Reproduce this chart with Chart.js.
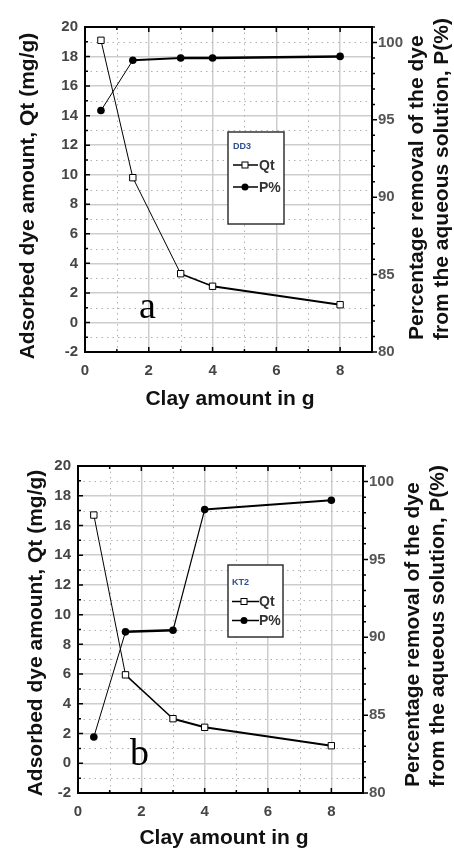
<!DOCTYPE html>
<html>
<head>
<meta charset="utf-8">
<script src="https://cdn.jsdelivr.net/npm/chart.js@4"></script>
<style>
	body { margin: 0; background: #fff; }
	canvas { display: block; }
</style>
</head>
<body>
<canvas id="chartA" width="454" height="420"></canvas>
<canvas id="chartB" width="454" height="429"></canvas>
<script>
// values
const clayAmount = [0.5, 1.5, 3, 4, 8];
const qtDD3 = [19.1, 9.8, 3.3, 2.45, 1.2];
const pDD3 = [95.6, 98.85, 99.0, 99.0, 99.1];
const qtKT2 = [16.7, 5.95, 3.0, 2.42, 1.18];
const pKT2 = [83.6, 90.35, 90.45, 98.2, 98.8];

const xTicks = [0, 2, 4, 6, 8];
const qtTicks = [-2, 0, 2, 4, 6, 8, 10, 12, 14, 16, 18, 20];
const pTicks = [80, 85, 90, 95, 100];

const seriesNames = ['Qt', 'P%'];
const sampleNames = ['DD3', 'KT2'];
const panelLetters = ['a', 'b'];

const xTitle = 'Clay amount in g';
const qtTitle = 'Adsorbed dye amount, Qt (mg/g)';
const pTitle = ['Percentage removal of the dye', 'from the aqueous solution, P(%)'];

const tickFont = { family: '"Liberation Sans Narrow", "Arial Narrow", sans-serif', size: 15, weight: 'bold' };
const titleFont = 'bold 21px "Liberation Sans", Arial, sans-serif';

const panelDecor = {
	id: 'panelDecor',
	beforeDraw(chart) {
		const ctx = chart.ctx;
		ctx.save();
		ctx.fillStyle = '#fff';
		ctx.fillRect(0, 0, chart.width, chart.height);
		ctx.restore();
	},
	beforeDatasetsDraw(chart) {
		const { ctx, chartArea: { left, right, top, bottom }, scales: { x, y } } = chart;
		ctx.save();
		ctx.strokeStyle = '#b0b0b0';
		ctx.lineWidth = 1;
		ctx.setLineDash([1.5, 4]);
		for (let v = 1; v < 9; v += 2) {
			const px = Math.round(x.getPixelForValue(v)) + 0.5;
			ctx.beginPath(); ctx.moveTo(px, top); ctx.lineTo(px, bottom); ctx.stroke();
		}
		for (let v = -1; v < 20; v += 2) {
			const py = Math.round(y.getPixelForValue(v)) + 0.5;
			ctx.beginPath(); ctx.moveTo(left, py); ctx.lineTo(right, py); ctx.stroke();
		}
		ctx.restore();
	},
	afterDatasetsDraw(chart, args, o) {
		const { ctx, chartArea: { left, right, top, bottom }, scales: { x, y, y1 } } = chart;
		ctx.save();

		// frame and tick marks
		ctx.strokeStyle = '#000';
		ctx.lineWidth = 2;
		ctx.strokeRect(left, top, right - left, bottom - top);
		ctx.lineWidth = 1.5;
		ctx.beginPath();
		for (let v = 0; v <= 9; v++) {
			const px = x.getPixelForValue(v), len = v % 2 === 0 ? 5 : 3;
			ctx.moveTo(px, bottom); ctx.lineTo(px, bottom - len);
			ctx.moveTo(px, top); ctx.lineTo(px, top + len);
		}
		for (let v = -2; v <= 20; v++) {
			const py = y.getPixelForValue(v), len = v % 2 === 0 ? 5 : 3;
			ctx.moveTo(left, py); ctx.lineTo(left + len, py);
		}
		for (let v = 80; v <= 101; v++) {
			const py = y1.getPixelForValue(v), len = v % 5 === 0 ? 5 : 3;
			ctx.moveTo(right, py); ctx.lineTo(right + len, py);
		}
		ctx.stroke();

		// legend box
		const L = o.legend;
		ctx.fillStyle = '#fff';
		ctx.fillRect(L.x, L.y, L.w, L.h);
		ctx.strokeStyle = '#333';
		ctx.lineWidth = 1.5;
		ctx.strokeRect(L.x, L.y, L.w, L.h);
		ctx.textBaseline = 'middle';
		ctx.textAlign = 'left';
		ctx.font = 'bold 9px "Liberation Sans Narrow", sans-serif';
		ctx.fillStyle = '#2f4f8f';
		ctx.fillText(o.sample, L.lineX[0], L.titleY);
		ctx.font = 'bold 14px "Liberation Sans Narrow", sans-serif';
		seriesNames.forEach((name, i) => {
			const ry = L.rows[i];
			ctx.strokeStyle = '#000';
			ctx.lineWidth = 1.5;
			ctx.beginPath(); ctx.moveTo(L.lineX[0], ry); ctx.lineTo(L.lineX[1], ry); ctx.stroke();
			if (i === 0) {
				ctx.fillStyle = '#fff';
				ctx.fillRect(L.markX - 3, ry - 3, 6, 6);
				ctx.lineWidth = 1;
				ctx.strokeRect(L.markX - 3, ry - 3, 6, 6);
			} else {
				ctx.fillStyle = '#000';
				ctx.beginPath(); ctx.arc(L.markX, ry, 3.5, 0, Math.PI * 2); ctx.fill();
			}
			ctx.fillStyle = '#333';
			ctx.fillText(name, L.textX, ry + 1);
		});

		// panel letter
		ctx.font = '38px "Liberation Serif", "Times New Roman", serif';
		ctx.fillStyle = '#000';
		ctx.textBaseline = 'alphabetic';
		ctx.fillText(o.letter, o.letterPos.x, o.letterPos.y);

		// axis titles
		ctx.font = titleFont;
		ctx.fillStyle = '#111';
		ctx.textBaseline = 'middle';
		ctx.textAlign = 'center';
		ctx.fillText(xTitle, o.xTitle.x, o.xTitle.y);

		ctx.save();
		ctx.translate(o.qtTitle.x, o.qtTitle.y);
		ctx.rotate(-Math.PI / 2);
		ctx.fillText(qtTitle, 0, 0);
		ctx.restore();

		ctx.save();
		ctx.translate(o.pTitle.x, o.pTitle.y);
		ctx.rotate(-Math.PI / 2);
		ctx.textAlign = 'left';
		pTitle.forEach((line, i) => ctx.fillText(line, 0, i * o.pTitle.gap));
		ctx.restore();

		ctx.restore();
	}
};

function toPoints(values) {
	return clayAmount.map((c, i) => ({ x: c, y: values[i] }));
}

function setTicks(list) {
	return scale => { scale.ticks = list.map(v => ({ value: v })); };
}

function drawPanel(canvasId, qt, p, panel) {
	const widthOf = list => c => list[c.p0DataIndex];
	return new Chart(document.getElementById(canvasId), {
		type: 'scatter',
		data: {
			datasets: [
				{
					label: seriesNames[0],
					data: toPoints(qt),
					yAxisID: 'y',
					showLine: true,
					borderColor: '#000',
					borderWidth: 1,
					segment: { borderWidth: widthOf(panel.qtWidths) },
					pointStyle: 'rect',
					pointRadius: 4.5,
					pointBackgroundColor: '#fff',
					pointBorderColor: '#000',
					pointBorderWidth: 1
				},
				{
					label: seriesNames[1],
					data: toPoints(p),
					yAxisID: 'y1',
					showLine: true,
					borderColor: '#000',
					borderWidth: 1,
					segment: { borderWidth: widthOf(panel.pWidths) },
					pointStyle: 'circle',
					pointRadius: 3.8,
					pointBackgroundColor: '#000',
					pointBorderColor: '#000',
					pointBorderWidth: 0
				}
			]
		},
		options: {
			responsive: false,
			animation: false,
			layout: { padding: { top: panel.padTop, left: 0, right: 0, bottom: 0 }, autoPadding: false },
			plugins: {
				legend: { display: false },
				tooltip: { enabled: false },
				panelDecor: panel
			},
			scales: {
				x: {
					type: 'linear', min: 0, max: 9,
					afterFit: s => { s.height = panel.xH; },
					afterBuildTicks: setTicks(xTicks),
					grid: { color: '#cdcdcd', lineWidth: 1.5, drawTicks: false },
					border: { display: false },
					ticks: { font: tickFont, color: '#454545', padding: panel.xPad, maxRotation: 0 }
				},
				y: {
					position: 'left', min: -2, max: 20,
					afterFit: s => { s.width = panel.yW; },
					afterBuildTicks: setTicks(qtTicks),
					grid: { color: '#cdcdcd', lineWidth: 1.5, drawTicks: false },
					border: { display: false },
					ticks: { font: tickFont, color: '#454545', padding: panel.yPad }
				},
				y1: {
					position: 'right', min: 80, max: 101,
					afterFit: s => { s.width = panel.y1W; },
					afterBuildTicks: setTicks(pTicks),
					grid: { drawOnChartArea: false, drawTicks: false },
					border: { display: false },
					ticks: { font: tickFont, color: '#555', padding: panel.y1Pad }
				}
			}
		},
		plugins: [panelDecor]
	});
}

drawPanel('chartA', qtDD3, pDD3, {
	sample: sampleNames[0], letter: panelLetters[0],
	padTop: 27, yW: 85, y1W: 82, xH: 68, xPad: 10, yPad: 7, y1Pad: 6,
	qtWidths: [1, 1, 1.5, 2], pWidths: [1, 2, 2.5, 2.5],
	legend: { x: 228, y: 132, w: 56, h: 92, titleY: 147, rows: [165, 187], lineX: [233, 258], markX: 245, textX: 259 },
	letterPos: { x: 139, y: 318 },
	xTitle: { x: 230, y: 399 },
	qtTitle: { x: 28.5, y: 196 },
	pTitle: { x: 417, y: 340, gap: 25 }
});

drawPanel('chartB', qtKT2, pKT2, {
	sample: sampleNames[1], letter: panelLetters[1],
	padTop: 46, yW: 78, y1W: 91, xH: 56, xPad: 10, yPad: 7, y1Pad: 6,
	qtWidths: [1, 1.5, 2, 2], pWidths: [1, 2.5, 1.2, 2],
	legend: { x: 228, y: 145, w: 55, h: 72, titleY: 163, rows: [181.5, 200.5], lineX: [232, 259], markX: 244, textX: 259 },
	letterPos: { x: 130, y: 345 },
	xTitle: { x: 224, y: 418 },
	qtTitle: { x: 36, y: 213 },
	pTitle: { x: 413.5, y: 367, gap: 25 }
});
</script>
</body>
</html>
